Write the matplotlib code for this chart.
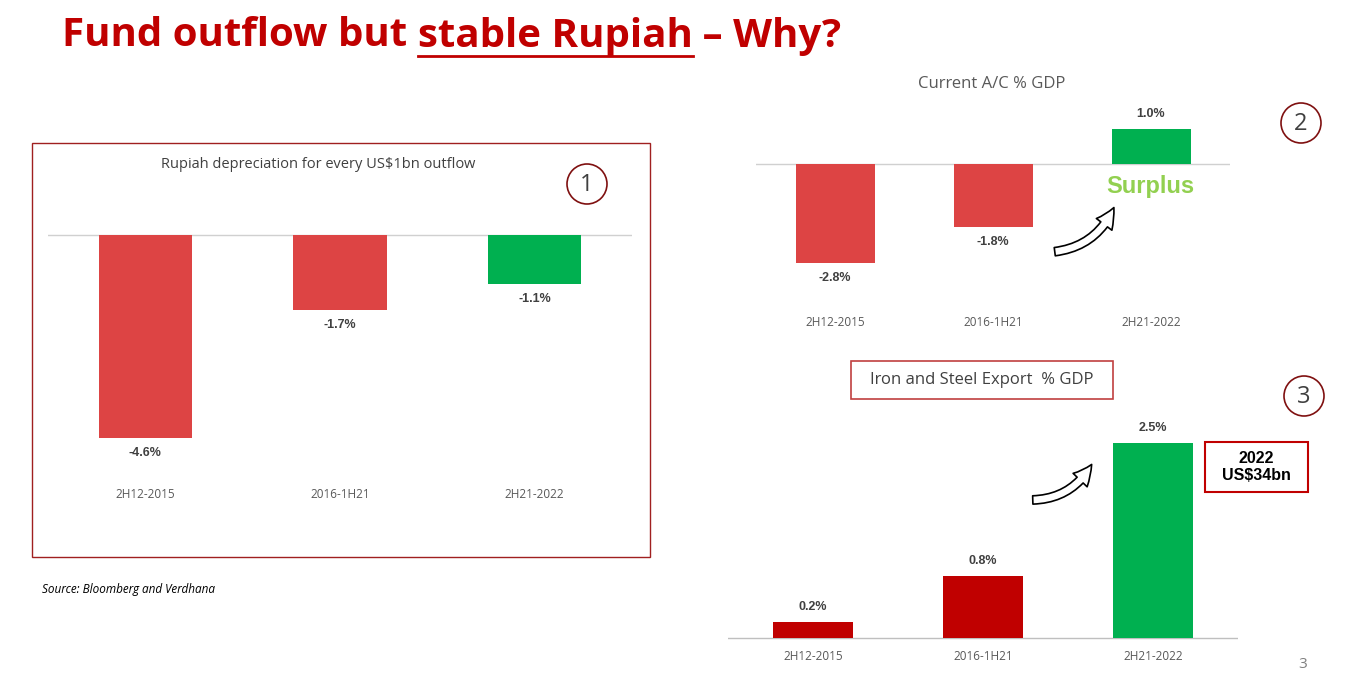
import matplotlib.pyplot as plt
from matplotlib.patches import Rectangle, FancyArrowPatch, Circle

W, H = 1356, 682
periods = ['2H12-2015', '2016-1H21', '2H21-2022']
depr = [-4.6, -1.7, -1.1]
cur_acc = [-2.8, -1.8, 1.0]
steel = [0.2, 0.8, 2.5]

RED = '#DD4444'
GREEN = '#00B050'
DARK = '#C00000'
plt.rcParams['font.family'] = 'Open Sans'

fig = plt.figure(figsize=(W / 100, H / 100), dpi=100)
bg = fig.add_axes([0, 0, 1, 1])
bg.set_xlim(0, W)
bg.set_ylim(H, 0)
bg.axis('off')


def chart(x0, x1, ytop, ybot, zero, scale, vals, colors, label_y, width, baseline_col='#d0d0d0'):
    ax = fig.add_axes([x0 / W, 1 - ybot / H, (x1 - x0) / W, (ybot - ytop) / H])
    ax.set_ylim(-(ybot - zero) / scale, (zero - ytop) / scale)
    ax.set_xlim(-0.5, 2.5)
    ax.bar(range(3), vals, width=width, color=colors, zorder=2)
    ax.axhline(0, color=baseline_col, lw=1, zorder=1)
    for i, v in enumerate(vals):
        off = 9 / scale
        ax.text(i, v - off if v < 0 else v + off, f'{v:.1f}%', ha='center',
                va='top' if v < 0 else 'bottom', fontsize=9, fontweight='bold',
                color='#404040', family='Liberation Sans')
        ax.text(i, -(label_y - zero) / scale, periods[i], ha='center', va='center',
                fontsize=8.5, color='#595959')
    ax.axis('off')
    return ax


# title, placed piece by piece
fig.canvas.draw()
r = fig.canvas.get_renderer()
x = 62
for part, ul in [('Fund outflow but ', False), ('stable Rupiah', True), (' – Why?', False)]:
    t = bg.text(x, 36, part, fontsize=29, fontweight='bold', color=DARK, va='center')
    w = t.get_window_extent(r).width
    if ul:
        bg.plot([x, x + w], [56, 56], color=DARK, lw=2)
    x += w

# chart 1
bg.add_patch(Rectangle((32, 143), 618, 414, fill=False, ec='#A02020', lw=1))
bg.text(318, 165, 'Rupiah depreciation for every US$1bn outflow', ha='center', va='center',
        fontsize=10.5, color='#404040')
chart(48, 632, 200, 530, 235, 44.1, depr, [RED, RED, GREEN], 494, 0.48)

# chart 2
bg.text(992, 84, 'Current A/C % GDP', ha='center', va='center', fontsize=12, color='#595959')
chart(756, 1230, 100, 340, 164, 35.2, cur_acc, [RED, RED, GREEN], 322, 0.5)
bg.text(1150, 187, 'Surplus', ha='center', va='center', fontsize=17, fontweight='bold',
        color='#92D050', family='Liberation Sans')

# chart 3
bg.add_patch(Rectangle((851, 361), 262, 38, fill=False, ec='#C04040', lw=1.2))
bg.text(982, 380, 'Iron and Steel Export  % GDP', ha='center', va='center', fontsize=12, color='#404040')
chart(728, 1238, 420, 670, 638, 78.0, steel, [DARK, DARK, GREEN], 657, 0.47, '#bfbfbf')
bg.add_patch(Rectangle((1205, 442), 103, 50, fill=False, ec=DARK, lw=1.5))
bg.text(1256, 467, '2022\nUS$34bn', ha='center', va='center', fontsize=11.5, fontweight='bold',
        color='black', linespacing=1.2, family='Liberation Sans')

# circled numbers
for (cx, cy, n) in [(587, 184, '1'), (1301, 123, '2'), (1304, 396, '3')]:
    bg.add_patch(Circle((cx, cy), 20, fill=False, ec='#7F1010', lw=1.2))
    bg.text(cx, cy + 1, n, ha='center', va='center', fontsize=17, color='#404040')

# arrows
for (p0, p1) in [((1052, 252), (1115, 205)), ((1030, 500), (1093, 462))]:
    bg.add_patch(FancyArrowPatch(p0, p1, arrowstyle='simple,head_width=14,head_length=14,tail_width=6',
                                 connectionstyle='arc3,rad=0.3', fc='white', ec='black', lw=1.2))

bg.text(42, 590, 'Source: Bloomberg and Verdhana', fontsize=8.5, style='italic', va='center')
bg.text(1298, 664, '3', fontsize=11, color='#808080', va='center')

fig.savefig('out.png', dpi=100)
